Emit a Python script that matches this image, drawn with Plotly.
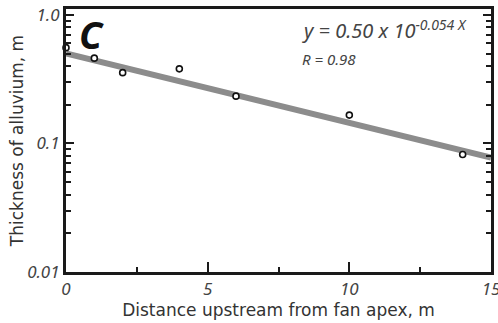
import numpy as np
import plotly.graph_objects as go

distance = [0, 1, 2, 4, 6, 10, 14]
thickness = [0.555, 0.46, 0.355, 0.38, 0.233, 0.166, 0.082]

fit_a = 0.50
fit_b = -0.054
fit_x = [0, 15]
fit_y = [fit_a * 10 ** (fit_b * x) for x in fit_x]

y_major = [0.01, 0.1, 1.0]
y_major_text = ["0.01", "0.1", "1.0"]
y_minor = [m * d for d in [0.01, 0.1] for m in range(2, 10)]

x_major = [0, 5, 10, 15]
x_minor = [2.5, 7.5, 12.5]

font_family = "Noto Sans, Liberation Sans, sans-serif"
title_family = "DejaVu Sans, Noto Sans, sans-serif"

fig = go.Figure()
fig.add_trace(go.Scatter(x=fit_x, y=fit_y, mode="lines",
                         line=dict(color="#8c8c8c", width=6), showlegend=False,
                         hoverinfo="skip"))
fig.add_trace(go.Scatter(x=distance, y=thickness, mode="markers",
                         marker=dict(symbol="circle", size=6, color="white",
                                     line=dict(color="#111", width=1.6)),
                         showlegend=False, cliponaxis=False))

fig.update_layout(
    width=498, height=323,
    margin=dict(l=66, r=7, t=9, b=51),
    paper_bgcolor="white", plot_bgcolor="white",
    font=dict(family=font_family, color="#333"),
    xaxis=dict(range=[0, 15], showgrid=False, zeroline=False, automargin=False,
               showline=True, linecolor="#1a1a1a", linewidth=3, mirror=True,
               ticks="inside", ticklen=10, tickwidth=1.5, tickcolor="#1a1a1a",
               tickvals=x_major, ticktext=[str(v) for v in x_major],
               ticklabeloverflow="allow",
               tickfont=dict(size=17, color="#444", style="italic"),
               minor=dict(tickvals=x_minor, ticks="inside", ticklen=5,
                          tickwidth=1.5, tickcolor="#1a1a1a"),
               title=dict(text="Distance upstream from fan apex, m",
                          font=dict(size=17, color="#333", family=title_family),
                          standoff=0)),
    yaxis=dict(type="log", range=[-2.0, 0.045], showgrid=False, zeroline=False,
               automargin=False,
               showline=True, linecolor="#1a1a1a", linewidth=3, mirror="ticks",
               ticks="inside", ticklen=8, tickwidth=1.5, tickcolor="#1a1a1a",
               tickvals=y_major, ticktext=y_major_text,
               ticklabeloverflow="allow",
               tickfont=dict(size=17, color="#444", style="italic"),
               minor=dict(tickvals=y_minor, ticks="inside", ticklen=5,
                          tickwidth=1.5, tickcolor="#1a1a1a"),
               title=dict(text="Thickness of alluvium, m",
                          font=dict(size=17, color="#333", family=title_family),
                          standoff=0)),
    annotations=[
        dict(text="<b><i>C</i></b>", xref="paper", yref="paper", x=0.025, y=1.01,
             xanchor="left", yanchor="top", showarrow=False,
             font=dict(size=38, color="#111", family=font_family)),
        dict(text="<i>y = 0.50 x 10<sup>-0.054 X</sup></i>", xref="paper", yref="paper",
             x=0.55, y=0.985, xanchor="left", yanchor="top", showarrow=False,
             font=dict(size=20, color="#444", family=font_family)),
        dict(text="<i>R = 0.98</i>", xref="paper", yref="paper",
             x=0.55, y=0.855, xanchor="left", yanchor="top", showarrow=False,
             font=dict(size=15, color="#444", family=font_family)),
    ],
)

fig.write_html("out.html", config={"displayModeBar": False},
               post_script="document.body.style.margin='0px';")
